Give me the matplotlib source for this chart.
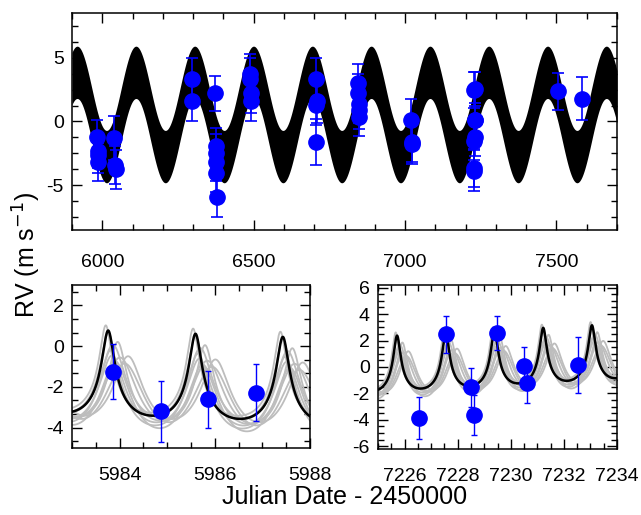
import numpy as np
import matplotlib.pyplot as plt
from matplotlib.ticker import MultipleLocator

plt.rcParams['font.family'] = ['Liberation Sans', 'DejaVu Sans']
plt.rcParams['axes.unicode_minus'] = False

# RV observations (JD - 2450000, m/s)
t_obs = [5983.87, 5984.86, 5985.86, 5986.87,
         6040, 6043, 6044,
         6297, 6298,
         6372, 6377, 6376, 6375, 6377, 6380,
         6488, 6489, 6490, 6491,
         6706, 6708, 6707, 6706,
         6844, 6846, 6848, 6847, 6849,
         7021, 7022, 7023,
         7226.56, 7227.57, 7228.51, 7228.60, 7229.48, 7230.48, 7230.61, 7232.54,
         7506, 7583]
rv_obs = [-1.25, -3.2, -2.6, -2.28,
          -1.3, -3.4, -3.75,
          3.3, 1.6,
          2.2, -1.9, -2.5, -3.2, -4.0, -5.95,
          3.7, 3.3, 2.2, 1.6,
          3.3, 1.6, 1.3, -1.6,
          3.0, 2.2, 1.4, 0.9, 0.35,
          0.08, -1.6, -1.75,
          -3.84, 2.48, -1.54, -3.64, 2.55, 0.08, -1.24, 0.15,
          2.35, 1.8]
err_obs = [1.35, 1.5, 1.4, 1.4,
           1.7, 1.5, 1.55,
           1.7, 1.6,
           1.4, 1.4, 1.5, 1.5, 1.5, 1.5,
           1.6, 1.7, 1.5, 1.6,
           1.7, 1.7, 1.6, 1.8,
           1.5, 1.5, 1.5, 1.5, 1.5,
           1.7, 1.6, 1.6,
           1.6, 1.4, 1.45, 1.5, 1.3, 1.4, 1.5, 2.1,
           1.45, 1.7]

# model parameters: long-period sinusoid + eccentric short-period orbit
P_long, T_long, K_long = 194.2, 5917.0, 3.3
P_short, T_peri, K_short, e_short, gamma = 1.8345, 5983.76, 2.05, 0.5, -0.475

# alternative (posterior) short-period models drawn in grey
gray_shift = [0.0, 0.05, 0.1, 0.15, 0.2, 0.25, 0.42, -0.05, 0.08, 0.35]
gray_K = [2.0, 1.8, 1.7, 1.6, 1.9, 1.5, 1.5, 2.1, 1.6, 1.4]
gray_e = [0.45, 0.35, 0.3, 0.25, 0.4, 0.2, 0.25, 0.5, 0.3, 0.15]
gray_gamma = [-0.4, -0.8, -0.3, -0.9, -0.6, -0.5, -0.5, -0.3, -0.7, -0.6]


def kepler(t, P, T0, K, e, gam):
    M = 2 * np.pi * (t - T0) / P
    E = M.copy()
    for _ in range(40):
        E = E - (E - e * np.sin(E) - M) / (1 - e * np.cos(E))
    nu = 2 * np.arctan2(np.sqrt(1 + e) * np.sin(E / 2), np.sqrt(1 - e) * np.cos(E / 2))
    return K * (np.cos(nu) + e) + gam


def long_term(t):
    return K_long * np.cos(2 * np.pi * (t - T_long) / P_long)


fig = plt.figure(figsize=(6.41, 5.15), dpi=100)
ax1 = fig.add_axes([0.1123, 0.5534, 0.8503, 0.4214])
ax2 = fig.add_axes([0.1123, 0.1301, 0.3713, 0.3165])
ax3 = fig.add_axes([0.5897, 0.1282, 0.3729, 0.3184])

blue = '#0000ff'

# top panel: full model band
tt = np.linspace(5900, 7700, 4000)
ph = np.linspace(T_peri, T_peri + P_short, 3000)
s = kepler(ph, P_short, T_peri, K_short, e_short, gamma)
ax1.fill_between(tt, long_term(tt) + s.min(), long_term(tt) + s.max(), color='k', lw=0)
ax1.errorbar(t_obs, rv_obs, yerr=err_obs, fmt='o', color=blue, ms=11,
             capsize=4, elinewidth=1.2, capthick=1.2, zorder=3)
ax1.set_xlim(5900, 7700)
ax1.set_ylim(-8.5, 8.5)
ax1.xaxis.set_major_locator(MultipleLocator(500))
ax1.xaxis.set_minor_locator(MultipleLocator(100))
ax1.yaxis.set_major_locator(MultipleLocator(5))
ax1.yaxis.set_minor_locator(MultipleLocator(1.25))

# bottom panels: zoom-ins
for ax, (x0, x1) in [(ax2, (5983, 5988)), (ax3, (7225, 7234))]:
    tz = np.linspace(x0, x1, 3000)
    for dt, K, e, g in zip(gray_shift, gray_K, gray_e, gray_gamma):
        ax.plot(tz, long_term(tz) + kepler(tz, P_short, T_peri + dt, K, e, g),
                color='#bdbdbd', lw=1.3)
    ax.plot(tz, long_term(tz) + kepler(tz, P_short, T_peri, K_short, e_short, gamma),
            color='k', lw=1.8)
    ax.errorbar(t_obs, rv_obs, yerr=err_obs, fmt='o', color=blue, ms=11,
                capsize=2, elinewidth=1.0, capthick=1.0, zorder=3)
    ax.set_xlim(x0, x1)
    ax.xaxis.set_major_locator(MultipleLocator(2))
    ax.xaxis.set_minor_locator(MultipleLocator(0.5))

ax2.set_ylim(-5, 3)
ax2.yaxis.set_major_locator(MultipleLocator(2))
ax2.yaxis.set_minor_locator(MultipleLocator(2 / 3))
ax3.set_ylim(-6.2, 6.2)
ax3.yaxis.set_major_locator(MultipleLocator(2))
ax3.yaxis.set_minor_locator(MultipleLocator(0.5))

for ax in (ax1, ax2, ax3):
    ax.tick_params(which='both', direction='in', top=True, right=True, labelsize=14, width=1)
    ax.tick_params(which='major', length=7)
    ax.tick_params(which='minor', length=4)
    ax.tick_params(axis='x', pad=14)
    ax.tick_params(axis='y', pad=6)
    for sp in ax.spines.values():
        sp.set_linewidth(1.1)
ax1.tick_params(axis='x', pad=17)

fig.text(0.042, 0.505, 'RV (m s$^{-1}$)', rotation=90, ha='center', va='center', fontsize=18)
fig.text(0.538, 0.035, 'Julian Date - 2450000', ha='center', va='center', fontsize=18)

fig.savefig('out.png', dpi=100)
